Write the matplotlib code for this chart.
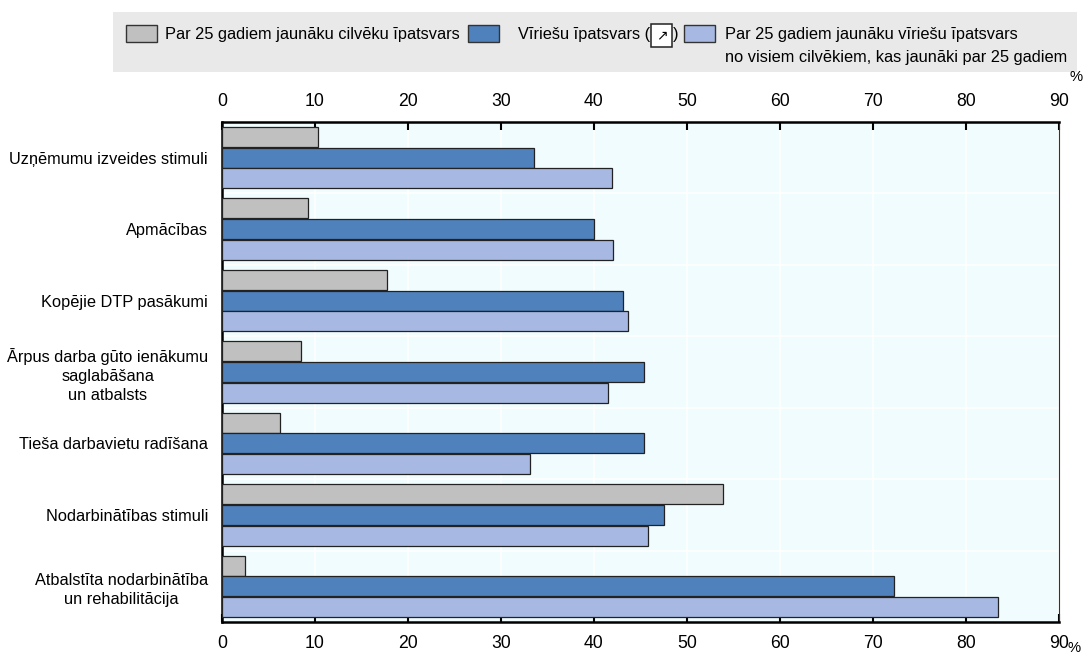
import matplotlib
matplotlib.use("Agg")
import matplotlib.pyplot as plt
from matplotlib.patches import Rectangle
from matplotlib import font_manager
import numpy as np

try:
    font_manager.findfont('Liberation Sans Narrow', fallback_to_default=False)
    fam = ['Liberation Sans Narrow', 'DejaVu Sans']
except Exception:
    fam = ['Liberation Sans', 'DejaVu Sans']
plt.rcParams['font.family'] = fam

categories = [
    "Uzņēmumu izveides stimuli",
    "Apmācības",
    "Kopējie DTP pasākumi",
    "Ārpus darba gūto ienākumu\nsaglabāšana\nun atbalsts",
    "Tieša darbavietu radīšana",
    "Nodarbinātības stimuli",
    "Atbalstīta nodarbinātība\nun rehabilitācija",
]
youth_share = [10.3, 9.2, 17.7, 8.5, 6.2, 53.9, 2.5]
men_share = [33.5, 40.0, 43.1, 45.4, 45.4, 47.5, 72.3]
young_men_share = [41.9, 42.0, 43.7, 41.5, 33.1, 45.8, 83.4]
series_labels = [
    "Par 25 gadiem jaunāku cilvēku īpatsvars",
    "Vīriešu īpatsvars (",
    "Par 25 gadiem jaunāku vīriešu īpatsvars\nno visiem cilvēkiem, kas jaunāki par 25 gadiem",
]
xticks = [0, 10, 20, 30, 40, 50, 60, 70, 80, 90]

colors = ['#c0c0c0', '#4f81bd', '#a7b9e3']

fig = plt.figure(figsize=(10.9, 6.64), dpi=100)
W, H = 1090, 664
renderer = fig.canvas.get_renderer()

# calibrate font size so the first legend label spans ~295 px like the reference
probe = fig.text(0, 0, series_labels[0], fontsize=10)
wpx = probe.get_window_extent(renderer).width
probe.remove()
fs = 10 * 295.0 / wpx
tick_fs = fs * 1.08

ax = fig.add_axes([222 / W, 1 - 622 / H, (1059 - 222) / W, 500 / H])
ax.set_facecolor('#f0fcfd')

y = np.arange(len(categories))
h = 0.28
off = 0.29
for vals, c, o in zip([youth_share, men_share, young_men_share], colors, [-off, 0, off]):
    ax.barh(y + o, vals, height=h, color=c, edgecolor='#222222', linewidth=0.9, zorder=3)

ax.set_xlim(0, 90)
ax.set_ylim(len(categories) - 0.5, -0.5)
ax.set_xticks(xticks)
ax.set_xticklabels([str(t) for t in xticks])
ax.set_yticks(y)
ax.set_yticklabels(categories, multialignment='center', fontsize=fs, linespacing=1.35)
ax.tick_params(axis='y', length=0, pad=10)
ax.tick_params(axis='x', which='both', direction='in', length=6, width=1.5,
               top=True, labeltop=True, bottom=True, labelbottom=True,
               labelsize=tick_fs, pad=9, color='black')
ax.xaxis.grid(True, color='white', linewidth=1.2, zorder=0)
ax.set_axisbelow(True)
for yy in np.arange(0.5, len(categories) - 0.5, 1):
    ax.axhline(yy, color='white', linewidth=1.2, zorder=1)

for s in ['top', 'bottom', 'left']:
    ax.spines[s].set_linewidth(1.8)
    ax.spines[s].set_color('black')
ax.spines['right'].set_linewidth(0.8)
ax.spines['right'].set_color('#333333')

fig.text(1070 / W, 1 - 77 / H, '%', fontsize=fs * 0.9, ha='left', va='center')
fig.text(1067 / W, 1 - 648 / H, '%', fontsize=fs * 0.9, ha='left', va='center')

# Legend
fig.patches.append(Rectangle((113 / W, 1 - 72 / H), (1077 - 113) / W, 60 / H,
                             transform=fig.transFigure, facecolor='#e9e9e9',
                             edgecolor='none', zorder=0))
patch_x = [126, 468, 684]
text_x = [165, 518, 725]
texts = []
for px, tx, c, lab in zip(patch_x, text_x, colors, series_labels):
    fig.patches.append(Rectangle((px / W, 1 - 42 / H), 31 / W, 17 / H,
                                 transform=fig.transFigure, facecolor=c,
                                 edgecolor='#333333', linewidth=1.0, zorder=2))
    texts.append(fig.text(tx / W, 1 - 27 / H, lab, fontsize=fs, ha='left',
                          va='top', linespacing=1.68))
mid = texts[1].get_window_extent(renderer)
bx = mid.x1 + 1
fig.patches.append(Rectangle((bx / W, 1 - 47 / H), 21 / W, 23 / H,
                             transform=fig.transFigure, facecolor='white',
                             edgecolor='#222222', linewidth=1.1, zorder=2))
fig.text((bx + 10.5) / W, 1 - 35.5 / H, '↗', fontsize=fs * 0.85, ha='center', va='center',
         family=['DejaVu Sans'], zorder=3)
fig.text((bx + 22) / W, 1 - 27 / H, ')', fontsize=fs, ha='left', va='top')

fig.savefig('out.png', dpi=100)
